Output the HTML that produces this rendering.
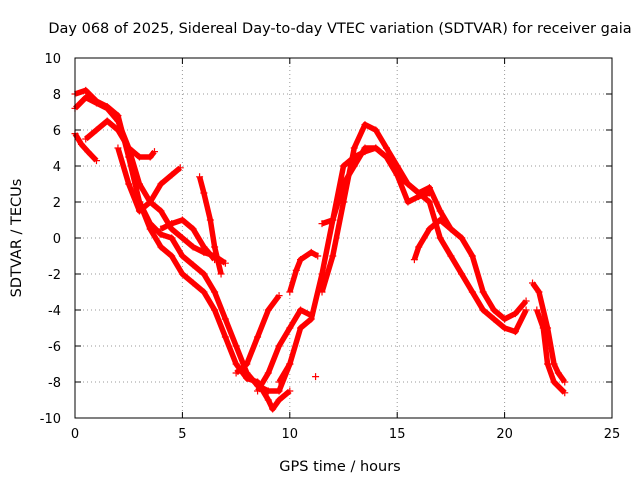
<!DOCTYPE html>
<html><head><meta charset="utf-8"><style>
body{margin:0;background:#fff;}
svg{display:block;font-family:"DejaVu Sans","Liberation Sans",sans-serif;}
</style></head><body>
<svg id="chart" width="640" height="480">
<rect width="640" height="480" fill="#fff"/>
<text x="340" y="33" text-anchor="middle" font-size="14.5">Day 068 of 2025, Sidereal Day-to-day VTEC variation (SDTVAR) for receiver gaia</text>
<text x="340" y="471" text-anchor="middle" font-size="14.5">GPS time / hours</text>
<text x="21" y="238" text-anchor="middle" font-size="14.5" transform="rotate(-90 21 238)">SDTVAR / TECUs</text>
<g id="grid"></g><g id="ticks"></g><g id="marks"></g>
<rect x="75" y="58" width="537" height="360" fill="none" stroke="#000"/>
</svg>
<script>
const xTicks=[0,5,10,15,20,25];
const yTicks=[-10,-8,-6,-4,-2,0,2,4,6,8,10];
const track1=[[0,7.2],[0.5,7.8],[1,7.5],[1.5,7.2],[2,6.5],[2.5,5],[3,3],[3.5,2],[4,1.5],[4.5,0.5],[5,0],[5.5,-0.5],[6,-0.8],[6.5,-1],[7,-1.4]];
const track2=[[0,8],[0.5,8.2],[1,7.6],[1.5,7.3],[2,6.8],[2.5,4.5],[3,2],[3.5,0.8],[4,0.2],[4.5,0],[5,-1],[5.5,-1.5],[6,-2],[6.5,-3],[7,-4.5],[7.5,-6],[8,-7.5],[8.5,-8.2],[9,-8.5],[9.5,-8.5],[10,-7]];
const track3=[[0,5.8],[0.3,5.2],[0.6,4.8],[1,4.3]];
const track4=[[0.5,5.5],[1,6],[1.5,6.5],[2,6],[2.5,5],[3,4.5],[3.5,4.5],[3.7,4.8]];
const track5=[[2,5],[2.5,3],[3,1.5],[3.5,2],[4,3],[4.5,3.5],[4.9,3.9]];
const track6=[[3,2],[3.5,0.5],[4,-0.5],[4.5,-1],[5,-2],[5.5,-2.5],[6,-3],[6.5,-4],[7,-5.5],[7.5,-7],[8,-7.8],[8.5,-8],[9,-9],[9.2,-9.5],[9.5,-9],[10,-8.5]];
const track7=[[4,0.5],[4.5,0.8],[5,1],[5.5,0.5],[6,-0.5],[6.5,-1.2]];
const track8=[[5.8,3.4],[6,2.5],[6.3,1],[6.5,-0.5],[6.8,-2]];
const track9=[[7.5,-7.5],[8,-7],[8.5,-5.5],[9,-4],[9.5,-3.2]];
const track10=[[8.5,-8.5],[9,-7.5],[9.5,-6],[10,-5],[10.5,-4],[11,-4.3]];
const track11=[[9.5,-8],[10,-7],[10.5,-5],[11,-4.5],[11.5,-2],[12,1],[12.5,3],[13,4],[13.5,5],[14,5],[14.5,4.5],[15,3.5],[15.5,3],[16,2.5],[16.5,2],[17,0],[17.5,-1],[18,-2],[18.5,-3],[19,-4],[19.5,-4.5],[20,-5],[20.5,-5.2],[21,-4]];
const track12=[[10,-3],[10.3,-1.8],[10.5,-1.2],[11,-0.8],[11.3,-1]];
const track13=[[11.5,-3],[12,-1],[12.5,2],[13,5],[13.5,6.3],[14,6],[14.5,5],[15,4],[15.5,3],[16,2.5],[16.5,2.8],[17,1.5],[17.5,0.5],[18,0],[18.5,-1],[19,-3],[19.5,-4],[20,-4.5],[20.5,-4.2],[21,-3.5]];
const track14=[[11.5,0.8],[12,1],[12.5,4],[13,4.5],[13.5,4.8],[14,5],[14.5,4.5],[15,3.5],[15.5,2],[16,2.3],[16.5,2.5]];
const track15=[[15.8,-1.2],[16,-0.5],[16.5,0.5],[17,1],[17.5,0.5],[18,0]];
const track16=[[21.3,-2.5],[21.6,-3],[22,-5],[22.3,-7],[22.5,-7.5],[22.8,-8]];
const track17=[[21.5,-4],[21.8,-5],[22,-7],[22.3,-8],[22.8,-8.6]];
const track18=[[11.2,-7.7]];
const tracks=[track1,track2,track3,track4,track5,track6,track7,track8,track9,track10,track11,track12,track13,track14,track15,track16,track17,track18];
const X0=75,X1=612,Y0=418,Y1=58;
const xs=v=>X0+(v-0)/(25-0)*(X1-X0);
const ys=v=>Y0-(v+10)/20*(Y0-Y1);
const NS="http://www.w3.org/2000/svg";
const g=document.getElementById('grid'),t=document.getElementById('ticks'),m=document.getElementById('marks');
function mk(tag,attrs,parent){const e=document.createElementNS(NS,tag);for(const k in attrs)e.setAttribute(k,attrs[k]);parent.appendChild(e);return e;}
xTicks.forEach(v=>{const x=xs(v);
 if(v>0&&v<25){const l=mk('line',{x1:x,x2:x,y1:Y1,y2:Y0,stroke:'#999','stroke-dasharray':'1,3'},g);
 
 }
 mk('line',{x1:x,x2:x,y1:Y0,y2:Y0-6,stroke:'#000'},t);mk('line',{x1:x,x2:x,y1:Y1,y2:Y1+6,stroke:'#000'},t);
 const tx=mk('text',{x:x,y:Y0+20,'text-anchor':'middle','font-size':13},t);tx.textContent=v;
 
 });
yTicks.forEach(v=>{const y=ys(v);
 if(v>-10&&v<10){const l=mk('line',{x1:X0,x2:X1,y1:y,y2:y,stroke:'#999','stroke-dasharray':'1,3'},g);
 
 }
 mk('line',{x1:X0,x2:X0+6,y1:y,y2:y,stroke:'#000'},t);mk('line',{x1:X1,x2:X1-6,y1:y,y2:y,stroke:'#000'},t);
 const tx=mk('text',{x:X0-14,y:y+5,'text-anchor':'end','font-size':13},t);tx.textContent=v;
 
 });
tracks.forEach((tr,i)=>{
 if(tr.length>1){const p=mk('polyline',{points:tr.map(d=>xs(d[0])+','+ys(d[1])).join(' '),fill:'none',stroke:'#f00','stroke-width':5.5,'stroke-linejoin':'round'},m);
 
 }
 tr.forEach(d=>{const x=xs(d[0]),y=ys(d[1]);
  const pt=mk('path',{d:`M${x-3.5},${y}h7M${x},${y-3.5}v7`,stroke:'#f00','stroke-width':1.2},m);
  
  });
});
</script>
</body></html>
